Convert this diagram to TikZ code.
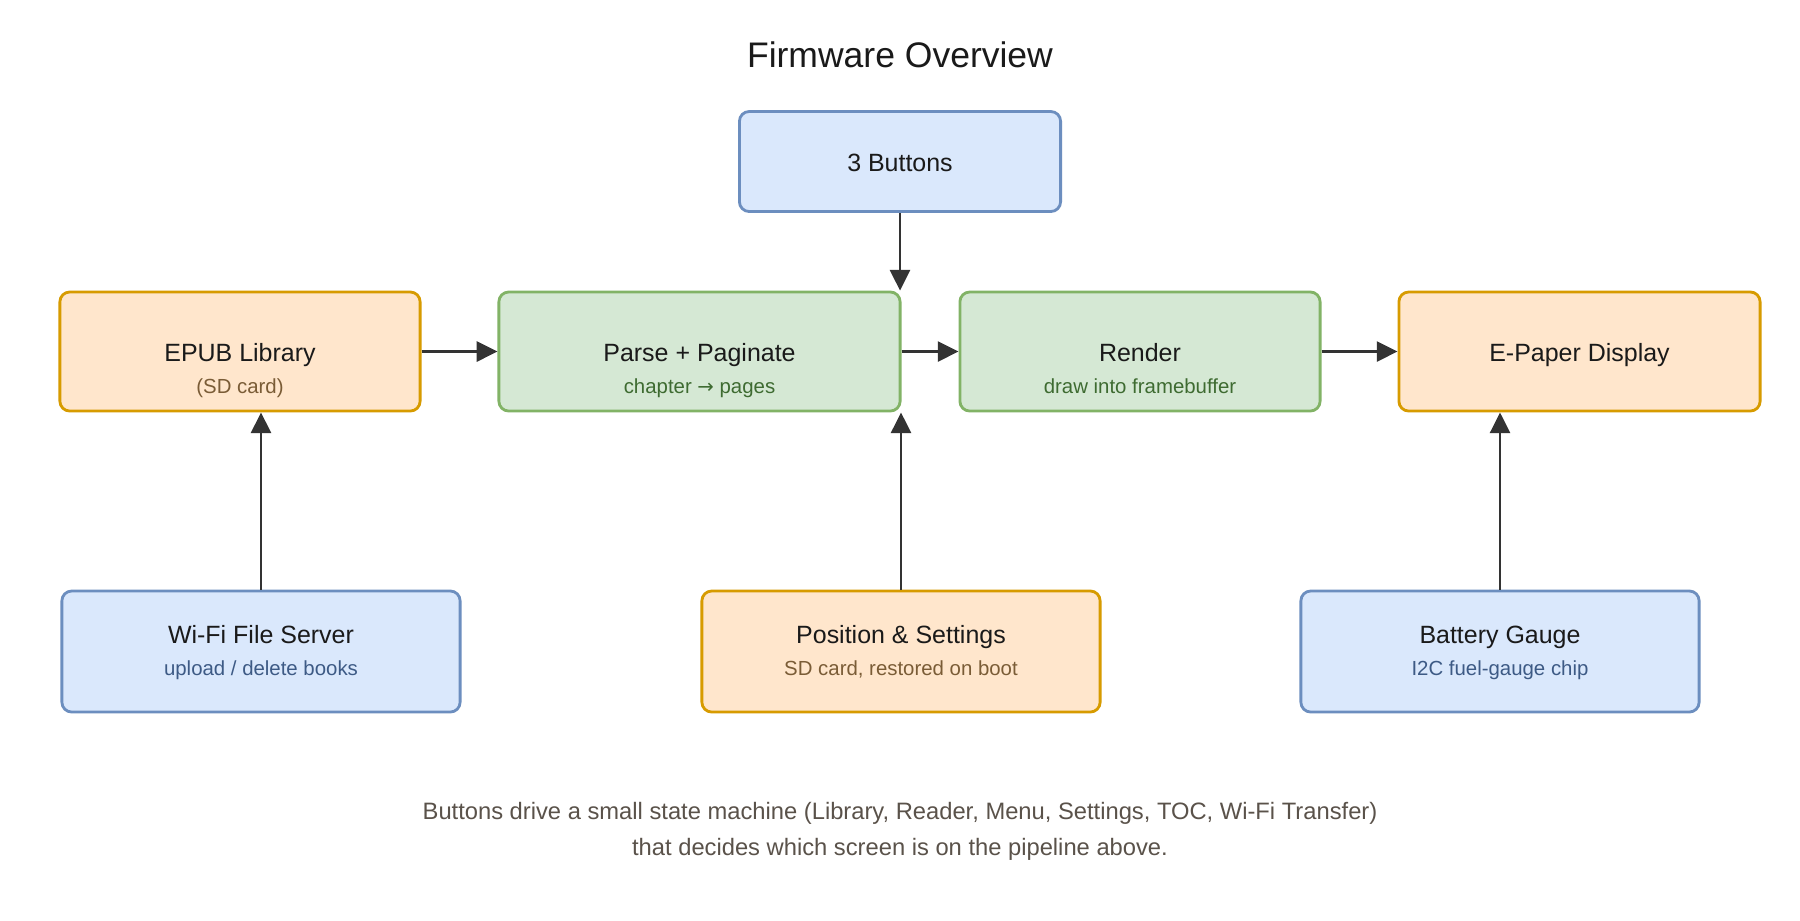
\documentclass[tikz,border=0pt]{standalone}
\usepackage{fontspec}
\setmainfont{Liberation Sans}
\newfontfamily\arrowfont{DejaVu Sans}
\usetikzlibrary{arrows.meta,calc}
\definecolor{bluefill}{HTML}{DAE8FC}
\definecolor{bluedraw}{HTML}{6C8EBF}
\definecolor{orfill}{HTML}{FFE6CC}
\definecolor{ordraw}{HTML}{D79B00}
\definecolor{grfill}{HTML}{D5E8D4}
\definecolor{grdraw}{HTML}{82B366}
\definecolor{txtc}{HTML}{1A1A1A}
\definecolor{bluesub}{HTML}{3D5A85}
\definecolor{orsub}{HTML}{7A5C36}
\definecolor{grsub}{HTML}{3E6B31}
\definecolor{notec}{HTML}{5A524A}
\definecolor{arrc}{HTML}{333333}
\tikzset{
  box/.style={rectangle, rounded corners=2.8pt, line width=0.8pt, inner sep=0pt},
  bluebox/.style={box, fill=bluefill, draw=bluedraw},
  orbox/.style={box, fill=orfill, draw=ordraw},
  grbox/.style={box, fill=grfill, draw=grdraw},
  ttl/.style={anchor=base, inner sep=0pt, text=txtc, font=\fontsize{7.1pt}{8.5pt}\selectfont},
  sub/.style={anchor=base, inner sep=0pt, font=\fontsize{5.8pt}{7pt}\selectfont},
  flow/.style={draw=arrc, line width=0.75pt, -{Triangle[length=5.9pt,width=5.7pt]}},
  notetext/.style={anchor=base, inner sep=0pt, text=notec, font=\fontsize{6.75pt}{8pt}\selectfont},
}
\begin{document}
\begin{tikzpicture}[x=0.01cm, y=-0.01cm]
\useasboundingbox[fill=white] (0,0) rectangle (1800,920);

\node[anchor=center, inner sep=0pt, text=txtc, font=\fontsize{10.1pt}{12pt}\selectfont] (title) at (900,55) {Firmware Overview};

% boxes
\node[bluebox, minimum width=3.21cm, minimum height=1.0cm] (buttons) at (900,161.5) {};
\node[orbox, minimum width=3.6cm, minimum height=1.19cm] (epub) at (240,351.5) {};
\node[grbox, minimum width=4.01cm, minimum height=1.19cm] (parse) at (699.5,351.5) {};
\node[grbox, minimum width=3.6cm, minimum height=1.19cm] (render) at (1140,351.5) {};
\node[orbox, minimum width=3.61cm, minimum height=1.19cm] (epaper) at (1579.5,351.5) {};
\node[bluebox, minimum width=3.98cm, minimum height=1.21cm] (wifi) at (261,651.5) {};
\node[orbox, minimum width=3.98cm, minimum height=1.21cm] (pos) at (901,651.5) {};
\node[bluebox, minimum width=3.98cm, minimum height=1.21cm] (batt) at (1500,651.5) {};

% texts
\node[ttl] (t-buttons) at (900,171) {3 Buttons};
\node[ttl] (t-epub) at (240,361) {EPUB Library};
\node[sub, text=orsub] (s-epub) at (240,393) {(SD card)};
\node[ttl] (t-parse) at (699.5,361) {Parse + Paginate};
\node[sub, text=grsub] (s-parse) at (699.5,393) {chapter {\arrowfont\fontsize{5.6pt}{7pt}\selectfont →} pages};
\node[ttl] (t-render) at (1140,361) {Render};
\node[sub, text=grsub] (s-render) at (1140,393) {draw into framebuffer};
\node[ttl] (t-epaper) at (1579.5,361) {E-Paper Display};
\node[ttl] (t-wifi) at (261,643) {Wi-Fi File Server};
\node[sub, text=bluesub] (s-wifi) at (261,675) {upload / delete books};
\node[ttl] (t-pos) at (901,643) {Position \& Settings};
\node[sub, text=orsub] (s-pos) at (901,675) {SD card, restored on boot};
\node[ttl] (t-batt) at (1500,643) {Battery Gauge};
\node[sub, text=bluesub] (s-batt) at (1500,675) {I2C fuel-gauge chip};

% connectors
\draw[flow] (buttons.south) -- (buttons.south |- parse.north);
\draw[flow] (epub.east) -- (parse.west);
\draw[flow] (parse.east) -- (render.west);
\draw[flow] (render.east) -- (epaper.west);
\draw[flow] (wifi.north) -- (wifi.north |- epub.south);
\draw[flow] (pos.north) -- (pos.north |- parse.south);
\draw[flow] (batt.north) -- (batt.north |- epaper.south);

% note
\node[notetext] (note1) at (900,819) {Buttons drive a small state machine (Library, Reader, Menu, Settings, TOC, Wi-Fi Transfer)};
\node[notetext] (note2) at (900,855) {that decides which screen is on the pipeline above.};
\end{tikzpicture}
\end{document}
